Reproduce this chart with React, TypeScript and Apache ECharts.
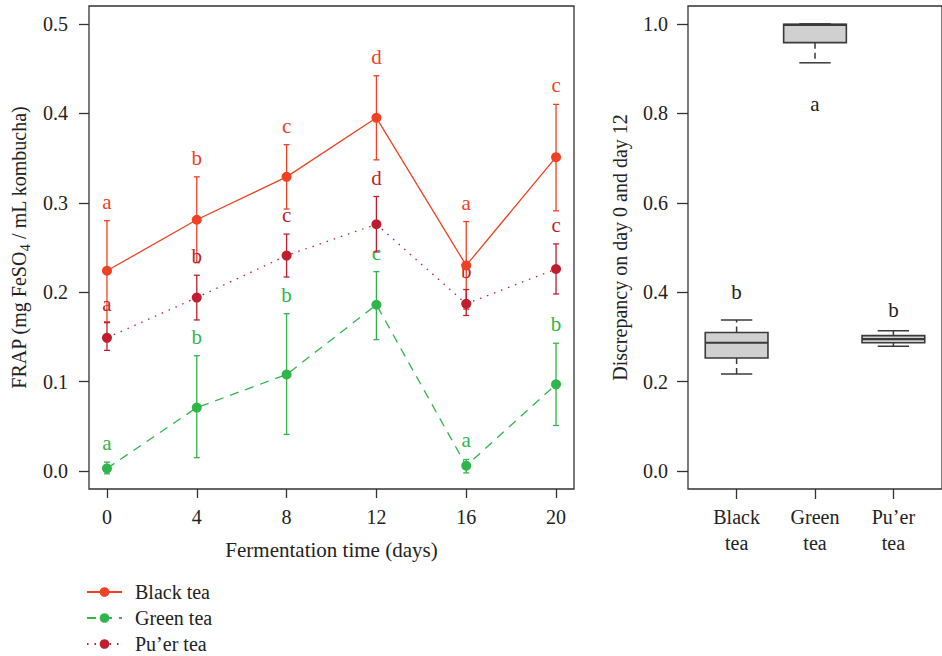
import React, { useEffect, useRef } from "react";
import * as echarts from "echarts";

const days = [0, 4, 8, 12, 16, 20];
const blackMean = [0.224, 0.281, 0.329, 0.395, 0.23, 0.351];
const blackUpper = [0.28, 0.329, 0.365, 0.442, 0.279, 0.41];
const blackLower = [0.167, 0.233, 0.293, 0.348, 0.181, 0.291];
const blackLetters = ["a", "b", "c", "d", "a", "c"];
const greenMean = [0.003, 0.071, 0.108, 0.186, 0.006, 0.097];
const greenUpper = [0.01, 0.129, 0.176, 0.223, 0.013, 0.143];
const greenLower = [-0.003, 0.015, 0.041, 0.147, -0.002, 0.051];
const greenLetters = ["a", "b", "b", "c", "a", "b"];
const puerMean = [0.149, 0.194, 0.241, 0.276, 0.187, 0.226];
const puerUpper = [0.166, 0.219, 0.265, 0.307, 0.203, 0.254];
const puerLower = [0.135, 0.169, 0.217, 0.245, 0.174, 0.198];
const puerLetters = ["a", "b", "c", "d", "b", "c"];
const frapTicks = [0, 0.1, 0.2, 0.3, 0.4, 0.5];
const seriesNames = ["Black tea", "Green tea", "Pu\u2019er tea"];

const teaLabels = ["Black\ntea", "Green\ntea", "Pu\u2019er\ntea"];
const teaPos = [1, 2, 3];
const boxMin = [0.217, 0.913, 0.279];
const boxQ1 = [0.253, 0.958, 0.287];
const boxMedian = [0.287, 0.998, 0.295];
const boxQ3 = [0.31, 0.999, 0.303];
const boxMax = [0.338, 1.0, 0.314];
const boxLetters = ["b", "a", "b"];
const boxLetterY = [0.4, 0.82, 0.36];
const discTicks = [0, 0.2, 0.4, 0.6, 0.8, 1.0];

const FONT = "'Liberation Serif', 'Times New Roman', serif";
const C_BLACK = "#EF4123";
const C_GREEN = "#30B54A";
const C_PUER = "#BE1E2D";
const AX = "#333333";
const TXT = "#222222";

function errorSeries(name: string, lower: number[], upper: number[], letters: string[], color: string) {
  return {
    type: "custom",
    name: name + " error",
    xAxisIndex: 0,
    yAxisIndex: 0,
    z: 2,
    silent: true,
    data: days.map((d, i) => [d, lower[i], upper[i], i]),
    encode: { x: 0, y: [1, 2] },
    renderItem: (params: any, api: any) => {
      const x = api.value(0);
      const lo = api.coord([x, api.value(1)]);
      const hi = api.coord([x, api.value(2)]);
      const idx = api.value(3);
      const hw = 3;
      const st = { stroke: color, lineWidth: 1.3 };
      return {
        type: "group",
        children: [
          { type: "line", shape: { x1: hi[0], y1: hi[1], x2: lo[0], y2: lo[1] }, style: st },
          { type: "line", shape: { x1: hi[0] - hw, y1: hi[1], x2: hi[0] + hw, y2: hi[1] }, style: st },
          { type: "line", shape: { x1: lo[0] - hw, y1: lo[1], x2: lo[0] + hw, y2: lo[1] }, style: st },
          {
            type: "text",
            x: hi[0],
            y: hi[1] - 19,
            style: {
              text: letters[idx],
              fill: color,
              fontSize: 21,
              fontFamily: FONT,
              align: "center",
              verticalAlign: "middle",
            },
          },
        ],
      };
    },
  };
}

function lineSeries(name: string, mean: number[], color: string, type: any) {
  return {
    type: "line",
    name,
    xAxisIndex: 0,
    yAxisIndex: 0,
    z: 3,
    data: days.map((d, i) => [d, mean[i]]),
    symbol: "circle",
    symbolSize: 10,
    showSymbol: true,
    lineStyle: { color, width: 1.3, type },
    itemStyle: { color },
  };
}

export default function App() {
  const ref = useRef<HTMLDivElement>(null);
  useEffect(() => {
    if (!ref.current) return;
    const chart = echarts.init(ref.current, null, { renderer: "svg" });
    const tickLabel = { fontSize: 20, fontFamily: FONT, color: TXT };
    const noLine = { show: false, onZero: false };
    const legendTops = [582, 608, 634];
    const option: any = {
      animation: false,
      backgroundColor: "#ffffff",
      textStyle: { fontFamily: FONT },
      grid: [
        { left: 89, top: 6, width: 485, height: 483, show: true, borderColor: AX, borderWidth: 1.3, containLabel: false },
        { left: 688, top: 6, right: -11, height: 483, show: true, borderColor: AX, borderWidth: 1.3, containLabel: false },
      ],
      legend: seriesNames.map((n, i) => ({
        orient: "horizontal",
        left: 86,
        top: legendTops[i],
        itemWidth: 35,
        itemHeight: 12,
        padding: 0,
        data: [n],
        textStyle: { fontSize: 20, fontFamily: FONT, color: TXT, padding: [0, 0, 0, 8] },
      })),
      xAxis: [
        {
          type: "value",
          gridIndex: 0,
          min: -0.8,
          max: 20.8,
          axisLine: noLine,
          axisTick: { show: true, inside: false, length: 9, customValues: days, lineStyle: { color: AX, width: 1.3 } },
          axisLabel: { customValues: days, margin: 18, ...tickLabel },
          splitLine: { show: false },
          name: "Fermentation time (days)",
          nameLocation: "middle",
          nameGap: 50,
          nameTextStyle: { fontSize: 21, fontFamily: FONT, color: TXT },
        },
        {
          type: "value",
          gridIndex: 1,
          min: 0.38,
          max: 3.62,
          axisLine: noLine,
          axisTick: { show: true, inside: false, length: 10, customValues: teaPos, lineStyle: { color: AX, width: 1.3 } },
          axisLabel: {
            customValues: teaPos,
            margin: 15,
            lineHeight: 26,
            formatter: (v: number) => teaLabels[Math.round(v) - 1] ?? "",
            ...tickLabel,
          },
          splitLine: { show: false },
        },
      ],
      yAxis: [
        {
          type: "value",
          gridIndex: 0,
          min: -0.02,
          max: 0.52,
          axisLine: noLine,
          axisTick: { show: true, inside: false, length: 10, customValues: frapTicks, lineStyle: { color: AX, width: 1.3 } },
          axisLabel: { customValues: frapTicks, margin: 21, formatter: (v: number) => v.toFixed(1), ...tickLabel },
          splitLine: { show: false },
          name: "{n|FRAP (mg FeSO}{s|4}{n| / mL kombucha)}",
          nameLocation: "middle",
          nameGap: 58,
          nameTextStyle: {
            color: TXT,
            rich: {
              n: { fontSize: 20, fontFamily: FONT, color: TXT, lineHeight: 20, verticalAlign: "top" },
              s: { fontSize: 14, fontFamily: FONT, color: TXT, lineHeight: 14, verticalAlign: "top", padding: [9, 0, 0, 0] },
            },
          },
        },
        {
          type: "value",
          gridIndex: 1,
          min: -0.04,
          max: 1.04,
          axisLine: noLine,
          axisTick: { show: true, inside: false, length: 11, customValues: discTicks, lineStyle: { color: AX, width: 1.3 } },
          axisLabel: { customValues: discTicks, margin: 20, formatter: (v: number) => v.toFixed(1), ...tickLabel },
          splitLine: { show: false },
          name: "Discrepancy on day 0 and day 12",
          nameLocation: "middle",
          nameGap: 58,
          nameTextStyle: { fontSize: 20, fontFamily: FONT, color: TXT },
        },
      ],
      series: [
        errorSeries(seriesNames[0], blackLower, blackUpper, blackLetters, C_BLACK),
        errorSeries(seriesNames[1], greenLower, greenUpper, greenLetters, C_GREEN),
        errorSeries(seriesNames[2], puerLower, puerUpper, puerLetters, C_PUER),
        lineSeries(seriesNames[0], blackMean, C_BLACK, "solid"),
        lineSeries(seriesNames[1], greenMean, C_GREEN, [9, 7]),
        lineSeries(seriesNames[2], puerMean, C_PUER, [1.5, 6]),
        {
          type: "custom",
          name: "box",
          xAxisIndex: 1,
          yAxisIndex: 1,
          silent: true,
          data: teaPos.map((p, i) => [p, boxMin[i], boxQ1[i], boxMedian[i], boxQ3[i], boxMax[i], boxLetterY[i], i]),
          encode: { x: 0, y: [1, 5] },
          renderItem: (params: any, api: any) => {
            const x = api.value(0);
            const idx = api.value(7);
            const pMin = api.coord([x, api.value(1)]);
            const pQ1 = api.coord([x, api.value(2)]);
            const pMed = api.coord([x, api.value(3)]);
            const pQ3 = api.coord([x, api.value(4)]);
            const pMax = api.coord([x, api.value(5)]);
            const pLet = api.coord([x, api.value(6)]);
            const hw = api.size([0.4, 0])[0];
            const cw = api.size([0.2, 0])[0];
            const cx = pMin[0];
            const stroke = "#3a3a3a";
            return {
              type: "group",
              children: [
                { type: "line", shape: { x1: cx, y1: pQ3[1], x2: cx, y2: pMax[1] }, style: { stroke, lineWidth: 1.5, lineDash: [6, 4] } },
                { type: "line", shape: { x1: cx, y1: pQ1[1], x2: cx, y2: pMin[1] }, style: { stroke, lineWidth: 1.5, lineDash: [6, 4] } },
                { type: "line", shape: { x1: cx - cw, y1: pMax[1], x2: cx + cw, y2: pMax[1] }, style: { stroke, lineWidth: 1.5 } },
                { type: "line", shape: { x1: cx - cw, y1: pMin[1], x2: cx + cw, y2: pMin[1] }, style: { stroke, lineWidth: 1.5 } },
                {
                  type: "rect",
                  shape: { x: cx - hw, y: pQ3[1], width: 2 * hw, height: pQ1[1] - pQ3[1] },
                  style: { fill: "#d0d0d0", stroke, lineWidth: 1.6 },
                },
                { type: "line", shape: { x1: cx - hw, y1: pMed[1], x2: cx + hw, y2: pMed[1] }, style: { stroke, lineWidth: 2.2 } },
                {
                  type: "text",
                  x: pLet[0],
                  y: pLet[1],
                  style: { text: boxLetters[idx], fill: TXT, fontSize: 21, fontFamily: FONT, align: "center", verticalAlign: "middle" },
                },
              ],
            };
          },
        },
      ],
    };
    chart.setOption(option);
    return () => chart.dispose();
  }, []);
  return <div ref={ref} style={{ position: "fixed", left: 0, top: 0, width: 942, height: 656, background: "#fff" }} />;
}
